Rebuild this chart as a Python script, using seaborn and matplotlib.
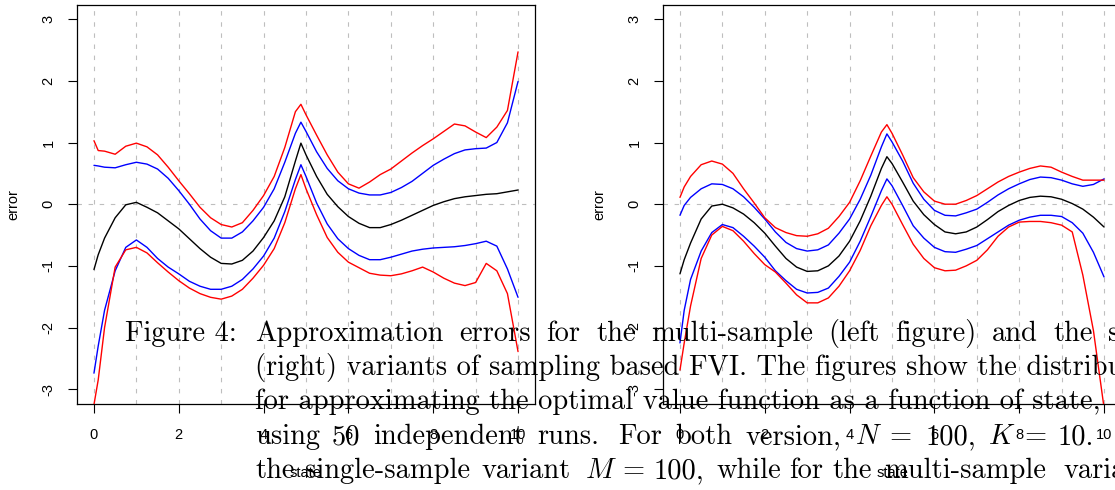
import matplotlib
matplotlib.use("Agg")
import matplotlib.pyplot as plt
import seaborn as sns

state = [0, 0.1, 0.25, 0.5, 0.75, 1, 1.25, 1.5, 1.75, 2, 2.25, 2.5, 2.75, 3, 3.25, 3.5,
         3.75, 4, 4.25, 4.5, 4.75, 4.88, 5, 5.25, 5.5, 5.75, 6, 6.25, 6.5, 6.75, 7, 7.25,
         7.5, 7.75, 8, 8.25, 8.5, 8.75, 9, 9.25, 9.5, 9.75, 10]

# multi-sample (left)
left_mean = [-1.06, -0.82, -0.55, -0.22, -0.01, 0.03, -0.05, -0.14, -0.27, -0.40, -0.56, -0.72,
             -0.86, -0.96, -0.97, -0.91, -0.76, -0.54, -0.27, 0.12, 0.70, 0.99, 0.80, 0.45, 0.16,
             -0.04, -0.20, -0.31, -0.38, -0.38, -0.33, -0.26, -0.18, -0.10, -0.02, 0.04, 0.09,
             0.12, 0.14, 0.16, 0.17, 0.20, 0.23]
left_blue_hi = [0.63, 0.62, 0.60, 0.59, 0.64, 0.68, 0.65, 0.57, 0.42, 0.22, 0.00, -0.24, -0.43,
                -0.55, -0.55, -0.45, -0.27, -0.05, 0.25, 0.68, 1.15, 1.33, 1.18, 0.85, 0.58, 0.38,
                0.25, 0.18, 0.15, 0.15, 0.19, 0.27, 0.37, 0.50, 0.63, 0.73, 0.82, 0.88, 0.90, 0.91,
                1.00, 1.32, 1.99]
left_blue_lo = [-2.74, -2.30, -1.72, -1.08, -0.70, -0.58, -0.70, -0.88, -1.02, -1.13, -1.25, -1.33,
                -1.38, -1.38, -1.33, -1.22, -1.05, -0.84, -0.55, -0.12, 0.40, 0.64, 0.45, 0.02,
                -0.32, -0.56, -0.72, -0.83, -0.90, -0.90, -0.86, -0.81, -0.76, -0.73, -0.71, -0.70,
                -0.69, -0.67, -0.64, -0.60, -0.68, -1.05, -1.51]
left_red_hi = [1.03, 0.87, 0.86, 0.81, 0.94, 0.99, 0.93, 0.80, 0.60, 0.38, 0.17, -0.05, -0.22,
               -0.33, -0.37, -0.30, -0.10, 0.14, 0.45, 0.92, 1.50, 1.62, 1.45, 1.12, 0.80, 0.52,
               0.33, 0.26, 0.36, 0.48, 0.57, 0.70, 0.83, 0.95, 1.06, 1.18, 1.30, 1.27, 1.17, 1.08,
               1.25, 1.52, 2.47]
left_red_lo = [-3.25, -2.85, -2.00, -1.02, -0.74, -0.70, -0.79, -0.95, -1.10, -1.24, -1.36, -1.45,
               -1.51, -1.54, -1.49, -1.38, -1.20, -0.99, -0.72, -0.30, 0.25, 0.48, 0.25, -0.17,
               -0.54, -0.78, -0.94, -1.03, -1.12, -1.15, -1.16, -1.13, -1.08, -1.02, -1.10, -1.20,
               -1.28, -1.32, -1.27, -0.96, -1.08, -1.45, -2.39]

# single-sample (right)
right_mean = [-1.13, -0.90, -0.63, -0.24, -0.03, 0.00, -0.06, -0.16, -0.30, -0.47, -0.68, -0.88,
              -1.02, -1.09, -1.08, -1.00, -0.84, -0.60, -0.27, 0.13, 0.58, 0.77, 0.66, 0.36, 0.05,
              -0.17, -0.33, -0.45, -0.48, -0.45, -0.37, -0.25, -0.12, -0.02, 0.06, 0.11, 0.13,
              0.12, 0.08, 0.01, -0.08, -0.21, -0.37]
right_blue_hi = [-0.18, -0.02, 0.11, 0.25, 0.33, 0.32, 0.25, 0.12, -0.05, -0.24, -0.45, -0.62,
                 -0.72, -0.76, -0.74, -0.66, -0.47, -0.24, 0.08, 0.47, 0.93, 1.14, 1.01, 0.70,
                 0.34, 0.08, -0.10, -0.18, -0.19, -0.14, -0.08, 0.03, 0.15, 0.25, 0.33, 0.40,
                 0.44, 0.43, 0.39, 0.33, 0.29, 0.32, 0.41]
right_blue_lo = [-2.25, -1.72, -1.22, -0.76, -0.46, -0.33, -0.38, -0.52, -0.68, -0.86, -1.08,
                 -1.24, -1.38, -1.44, -1.43, -1.36, -1.17, -0.94, -0.60, -0.20, 0.22, 0.41, 0.30,
                 -0.02, -0.35, -0.55, -0.70, -0.77, -0.78, -0.73, -0.67, -0.56, -0.45, -0.34,
                 -0.26, -0.21, -0.18, -0.18, -0.20, -0.30, -0.47, -0.78, -1.18]
right_red_hi = [0.11, 0.28, 0.45, 0.64, 0.70, 0.65, 0.50, 0.25, 0.02, -0.22, -0.38, -0.46, -0.51,
                -0.52, -0.48, -0.39, -0.20, 0.03, 0.38, 0.78, 1.17, 1.29, 1.15, 0.80, 0.43, 0.20,
                0.05, 0.00, 0.00, 0.06, 0.14, 0.25, 0.36, 0.45, 0.52, 0.58, 0.62, 0.60, 0.52, 0.45,
                0.39, 0.39, 0.39]
right_red_lo = [-2.69, -2.25, -1.65, -0.88, -0.50, -0.36, -0.43, -0.60, -0.80, -0.98, -1.10,
                -1.28, -1.47, -1.60, -1.60, -1.52, -1.33, -1.08, -0.75, -0.35, -0.02, 0.12, 0.00,
                -0.33, -0.65, -0.88, -1.03, -1.08, -1.07, -1.00, -0.91, -0.74, -0.52, -0.37,
                -0.29, -0.28, -0.28, -0.30, -0.34, -0.45, -1.15, -2.05, -3.30]

x_ticks = [0, 2, 4, 6, 8, 10]
y_ticks = [-3, -2, -1, 0, 1, 2, 3]
grid_x = list(range(11))

# caption (LaTeX page text that overlaps the two plots), justified word by word
caption_font = 20.5
line1 = [("Figure 4:", 125), ("Approximation", 255), ("errors", 459), ("for", 546),
         ("the", 596), ("multi-sample", 651), ("(left", 828), ("figure)", 895),
         ("and", 992), ("the", 1053), ("single-sample", 1108)]
line2 = "(right) variants of sampling based FVI. The figures show the distribution"
line3 = "for approximating the optimal value function as a function of state,"
line4 = [("using", 255), ("50", 332), ("independent", 373), ("runs.", 537), ("For", 618),
         ("both", 675), ("version,", 745), ("$N$", 855), ("=", 889), ("100,", 926),
         ("$K$", 988), ("=", 1024), ("10.", 1058)]
line5 = [("the", 255), ("single-sample", 305), ("variant", 482), ("$M$", 585), ("=", 622),
         ("100,", 654), ("while", 716), ("for", 789), ("the", 832), ("multi-sample", 884),
         ("variant", 1064)]

sns.set_theme(style="white")
plt.rcParams['font.family'] = ['Liberation Sans', 'DejaVu Sans']
plt.rcParams['mathtext.fontset'] = 'cm'
plt.rcParams['axes.unicode_minus'] = False

W, H = 1115, 490
fig = plt.figure(figsize=(W / 100, H / 100), dpi=100)
ax_l = fig.add_axes([77 / W, 86 / H, 458 / W, 399 / H])
ax_r = fig.add_axes([663 / W, 86 / H, 458 / W, 399 / H])


def draw_panel(ax, mean, blue_hi, blue_lo, red_hi, red_lo):
    for gx in grid_x:
        ax.axvline(gx, color='#BEBEBE', lw=0.8, dashes=(4, 6), zorder=1)
    ax.axhline(0, color='#BEBEBE', lw=0.8, dashes=(4, 6), zorder=1)
    for vals, col in [(mean, 'black'), (blue_hi, 'blue'), (blue_lo, 'blue'),
                      (red_hi, 'red'), (red_lo, 'red')]:
        sns.lineplot(x=state, y=vals, color=col, lw=1.0, ax=ax, zorder=3)
    ax.set_xlim(-0.4, 10.4)
    ax.set_ylim(-3.24, 3.23)
    ax.set_xticks(x_ticks)
    ax.set_xticklabels([str(t) for t in x_ticks])
    ax.set_yticks(y_ticks)
    ax.set_yticklabels([str(t) for t in y_ticks], rotation=90, va='center')
    ax.tick_params(bottom=True, left=True, direction='out', length=6.5, width=0.8,
                   labelsize=10.5, colors='black')
    ax.tick_params(axis='y', pad=9)
    ax.tick_params(axis='x', pad=11)
    ax.set_xlabel('state', fontsize=10.5, labelpad=17, color='black')
    ax.set_ylabel('error', fontsize=10.5, labelpad=15, color='black')
    for sp in ax.spines.values():
        sp.set_color('black')
        sp.set_linewidth(0.9)


draw_panel(ax_l, left_mean, left_blue_hi, left_blue_lo, left_red_hi, left_red_lo)
draw_panel(ax_r, right_mean, right_blue_hi, right_blue_lo, right_red_hi, right_red_lo)

baselines = [341, 375, 409, 444, 478]


def put(s, x, base):
    fig.text(x / W, 1 - base / H, s, family='cmr10', fontsize=caption_font,
             ha='left', va='baseline', color='black')


for word, x in line1:
    put(word, x, baselines[0])
put(line2, 255, baselines[1])
put(line3, 255, baselines[2])
for word, x in line4:
    put(word, x, baselines[3])
for word, x in line5:
    put(word, x, baselines[4])

fig.savefig('out.png', dpi=100)
